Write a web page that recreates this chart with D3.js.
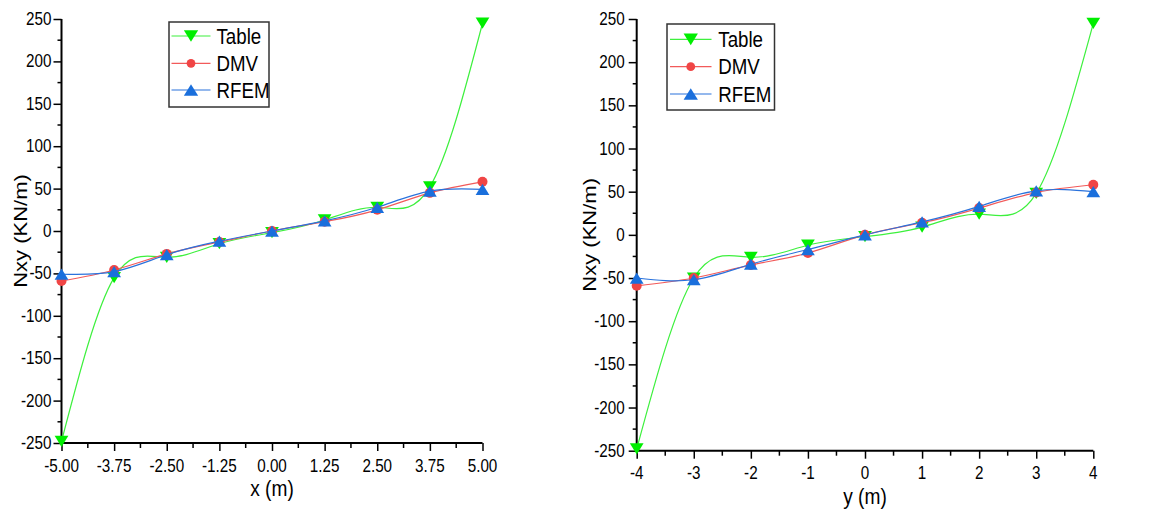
<!DOCTYPE html>
<html><head><meta charset="utf-8">
<script src="https://cdn.jsdelivr.net/npm/d3@7"></script>
<style>
body{margin:0;background:#fff;}
svg{display:block;}
text{font-family:Arial,"Liberation Sans",sans-serif;fill:#000;}
</style></head>
<body>
<svg id="c" width="1150" height="513"></svg>
<script>
// ---- data ----
const seriesNames = ["Table","DMV","RFEM"];
const xLeft = [-5,-3.75,-2.5,-1.25,0,1.25,2.5,3.75,5];
const tableLeft = [-248,-55,-31,-15,-2,13,28,52,245];
const dmvLeft   = [-59,-46,-27,-13,0,11,25,45,58];
const rfemLeft  = [-51,-48,-28,-12,0,12,28,47,49];
const xRight = [-4,-3,-2,-1,0,1,2,3,4];
const tableRight = [-248,-50,-26,-12,-2,9,24,48,245];
const dmvRight   = [-59,-50,-35,-21,0,14,31,49,58];
const rfemRight  = [-50,-52,-34,-17,0,15,33,51,50];
const xTicksLeft = [-5,-3.75,-2.5,-1.25,0,1.25,2.5,3.75,5];
const xTicksRight = [-4,-3,-2,-1,0,1,2,3,4];
const yTicks = [-250,-200,-150,-100,-50,0,50,100,150,200,250];

const colors = {Table:"#00ee00", DMV:"#f04545", RFEM:"#1a6fdc"};
const lineColors = {Table:"#3df03d", DMV:"#f25a5a", RFEM:"#2a72dc"};
const SQ = 0.87;

const svg = d3.select("#c");
const hy = s => s.replace("\u2212","-");

function hText(g, x, y, str, size, anchor){
  return g.append("text")
    .attr("transform", `translate(${x},${y}) scale(${SQ},1)`)
    .attr("text-anchor", anchor||"start")
    .style("font-size", size+"px")
    .text(str);
}

function marker(g, type, cx, cy, s){
  const col = colors[type];
  if(type==="DMV"){
    g.append("circle").attr("cx",cx).attr("cy",cy).attr("r",s*0.4).attr("fill",col);
  } else if(type==="Table"){
    const h=s*0.9, w=s*0.55;
    g.append("path").attr("d",`M${cx-w},${cy-h/2}L${cx+w},${cy-h/2}L${cx},${cy+h/2}Z`).attr("fill",col);
  } else {
    const h=s*0.9, w=s*0.55;
    g.append("path").attr("d",`M${cx-w},${cy+h/2}L${cx+w},${cy+h/2}L${cx},${cy-h/2}Z`).attr("fill",col);
  }
}

function chart(cfg){
  const g = svg.append("g");
  const x = d3.scaleLinear().domain(cfg.xdom).range(cfg.xr);
  const y = d3.scaleLinear().domain([-250,250]).range(cfg.yr);

  // axes lines
  g.append("line").attr("x1",cfg.xr[0]).attr("x2",cfg.xr[0]).attr("y1",cfg.yr[1]).attr("y2",cfg.yr[0])
    .attr("stroke","#000").attr("stroke-width",2);
  g.append("line").attr("x1",cfg.xr[0]-1).attr("x2",cfg.xr[1]).attr("y1",cfg.yr[0]).attr("y2",cfg.yr[0])
    .attr("stroke","#000").attr("stroke-width",2);

  // y ticks
  const yAx = d3.axisLeft(y).tickValues(yTicks).tickSize(8).tickSizeOuter(0);
  const ya = g.append("g").attr("transform",`translate(${cfg.xr[0]},0)`).call(yAx);
  ya.select(".domain").remove();
  ya.selectAll(".tick line").attr("stroke","#000").attr("stroke-width",1.5);
  ya.selectAll(".tick text").remove();
  yTicks.forEach(v=>hText(g, cfg.xr[0]-cfg.ylabGap, y(v)+6, hy(String(v)), 17.5, "end"));
  // y minor
  d3.range(-225,250,50).forEach(v=>{
    g.append("line").attr("x1",cfg.xr[0]-4).attr("x2",cfg.xr[0]).attr("y1",y(v)).attr("y2",y(v))
      .attr("stroke","#000").attr("stroke-width",1.5);
  });

  // x ticks
  const xAx = d3.axisBottom(x).tickValues(cfg.xticks).tickSize(8).tickSizeOuter(0);
  const xa = g.append("g").attr("transform",`translate(0,${cfg.yr[0]})`).call(xAx);
  xa.select(".domain").remove();
  xa.selectAll(".tick line").attr("stroke","#000").attr("stroke-width",1.5);
  xa.selectAll(".tick text").remove();
  cfg.xticks.forEach(v=>hText(g, x(v), cfg.yr[0]+cfg.xlabOff, hy(cfg.fmt(v)), 17.5, "middle"));
  for(let i=0;i<cfg.xticks.length-1;i++){
    const m=(cfg.xticks[i]+cfg.xticks[i+1])/2;
    g.append("line").attr("x1",x(m)).attr("x2",x(m)).attr("y1",cfg.yr[0]).attr("y2",cfg.yr[0]+5)
      .attr("stroke","#000").attr("stroke-width",1.5);
  }

  // titles
  hText(g, (cfg.xr[0]+cfg.xr[1])/2, cfg.xtitleY, cfg.xtitle, 22, "middle");
  g.append("text").attr("transform",`translate(${cfg.ytitleX},${(cfg.yr[0]+cfg.yr[1])/2}) rotate(-90) scale(1,${SQ})`)
    .attr("text-anchor","middle").style("font-size","22px").text("Nxy (KN/m)");

  // series
  const line = d3.line().x(d=>x(d[0])).y(d=>y(d[1])).curve(d3.curveNatural);
  cfg.series.forEach(s=>{
    const pts = cfg.xs.map((xv,i)=>[xv,s.vals[i]]);
    g.append("path").attr("d",line(pts)).attr("fill","none")
      .attr("stroke",lineColors[s.name]).attr("stroke-width",1.2);
    pts.forEach(p=>marker(g, s.name, x(p[0]), y(p[1]), 12.5));
  });

  // legend
  const L = cfg.leg;
  g.append("rect").attr("x",L.x).attr("y",L.y).attr("width",L.w).attr("height",L.h)
    .attr("fill","#fff").attr("stroke","#333").attr("stroke-width",1.5);
  seriesNames.forEach((n,i)=>{
    const cy = L.rows[i];
    g.append("line").attr("x1",L.lx0).attr("x2",L.lx1).attr("y1",cy).attr("y2",cy)
      .attr("stroke",lineColors[n]).attr("stroke-width",1.2);
    marker(g, n, (L.lx0+L.lx1)/2, cy, n==="DMV"?11:13);
    hText(g, L.tx, cy+7.5, n, 21.5, "start");
  });
}

chart({
  xdom:[-5,5], xr:[61.5,482.5], yr:[443,19], xs:xLeft, xticks:xTicksLeft,
  fmt:d3.format(".2f"), xtitle:"x (m)", xtitleY:496, ytitleX:27, ylabGap:10, xlabOff:28.5,
  series:[{name:"Table",vals:tableLeft},{name:"DMV",vals:dmvLeft},{name:"RFEM",vals:rfemLeft}],
  leg:{x:169,y:22,w:100,h:85,rows:[36,63.3,90],lx0:171.5,lx1:210.5,tx:216.5}
});
chart({
  xdom:[-4,4], xr:[636.7,1093.3], yr:[450.7,19], xs:xRight, xticks:xTicksRight,
  fmt:d3.format("d"), xtitle:"y (m)", xtitleY:504, ytitleX:596, ylabGap:12, xlabOff:28.5,
  series:[{name:"Table",vals:tableRight},{name:"DMV",vals:dmvRight},{name:"RFEM",vals:rfemRight}],
  leg:{x:667,y:24,w:107.5,h:86,rows:[39.3,66.7,94],lx0:670,lx1:711.5,tx:718.3}
});
</script>
</body></html>
